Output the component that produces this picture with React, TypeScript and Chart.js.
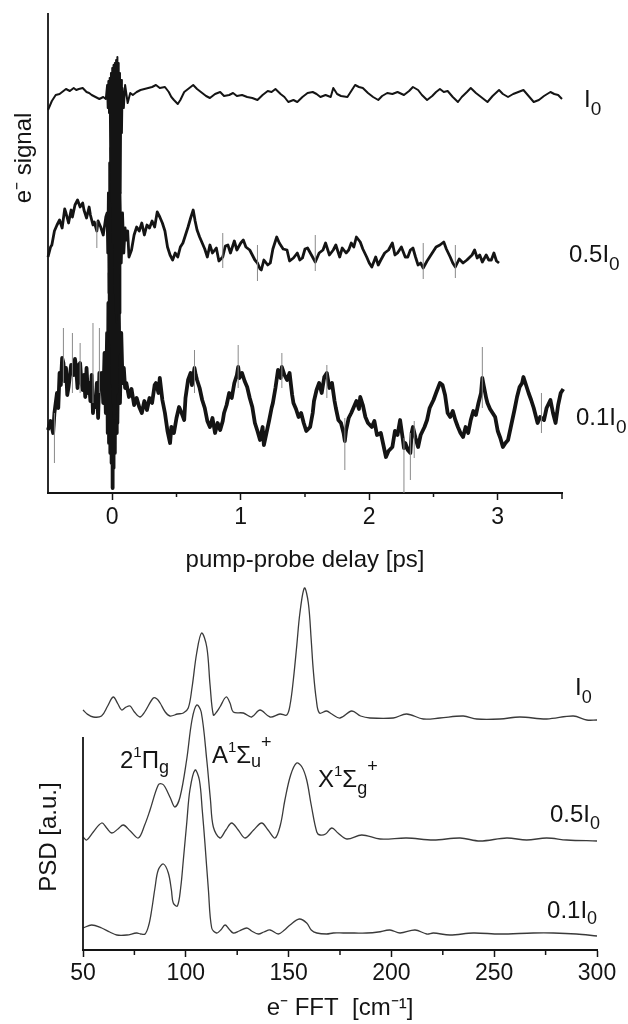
import React, { useEffect, useRef } from 'react';
import { Chart, registerables } from 'chart.js';

Chart.register(...registerables);

const FONT = "'Liberation Sans', Arial, Helvetica, sans-serif";
const INK = '#141414';

// ---------- Top panel: e- signal vs pump-probe delay [ps] (offset traces, arbitrary units) ----------
const delayTicks = [0, 1, 2, 3];
const delayMinorTicks = [0.5, 1.5, 2.5, 3.5];

const traceI0: [number, number][] = [
  [-0.5, 383], [-0.47, 392], [-0.44, 398], [-0.41, 399], [-0.39, 401], [-0.36, 404], [-0.33, 402], [-0.3, 405],
  [-0.28, 403], [-0.26, 404], [-0.23, 405], [-0.2, 401], [-0.18, 400], [-0.16, 398], [-0.13, 396], [-0.1, 394],
  [-0.07, 396], [-0.05, 394],
  [-0.04, 408], [-0.035, 385], [-0.03, 412], [-0.025, 380], [-0.02, 415], [-0.015, 330], [-0.01, 420], [-0.005, 290],
  [0, 425], [0.005, 250], [0.01, 428], [0.015, 200], [0.02, 430], [0.025, 180], [0.03, 433], [0.035, 170],
  [0.04, 436], [0.045, 180], [0.05, 430], [0.055, 220], [0.06, 420], [0.065, 300], [0.07, 413], [0.075, 360],
  [0.08, 405], [0.09, 385], [0.1, 408], [0.12, 390], [0.14, 400],
  [0.16, 398], [0.19, 401], [0.22, 403], [0.25, 404], [0.28, 405], [0.31, 406], [0.34, 408], [0.37, 405],
  [0.41, 406], [0.44, 401], [0.46, 396], [0.48, 393], [0.51, 389], [0.53, 393], [0.56, 401], [0.59, 404],
  [0.63, 408], [0.66, 404], [0.7, 400], [0.73, 397], [0.76, 395], [0.8, 399], [0.84, 401], [0.87, 397],
  [0.91, 398], [0.94, 400], [0.97, 397], [1.01, 398], [1.05, 396], [1.09, 395], [1.13, 393], [1.17, 398],
  [1.21, 402], [1.24, 401], [1.27, 404], [1.31, 399], [1.34, 396], [1.37, 391], [1.41, 393], [1.44, 391],
  [1.48, 396], [1.52, 400], [1.56, 401], [1.59, 399], [1.62, 396], [1.66, 398], [1.7, 396], [1.72, 405],
  [1.75, 399], [1.78, 397], [1.83, 396], [1.86, 402], [1.89, 408], [1.92, 406], [1.95, 405], [1.99, 400],
  [2.03, 396], [2.07, 393], [2.1, 397], [2.14, 400], [2.18, 399], [2.22, 401], [2.27, 398], [2.31, 402],
  [2.34, 406], [2.38, 403], [2.41, 398], [2.45, 393], [2.49, 397], [2.52, 401], [2.55, 404], [2.58, 401],
  [2.61, 402], [2.65, 396], [2.69, 391], [2.72, 396], [2.76, 401], [2.79, 405], [2.83, 400], [2.87, 396],
  [2.92, 391], [2.96, 397], [3.01, 403], [3.04, 399], [3.08, 396], [3.12, 399], [3.16, 401], [3.2, 403],
  [3.24, 397], [3.28, 391], [3.32, 393], [3.36, 397], [3.41, 401], [3.44, 399], [3.47, 398], [3.5, 394],
  [3.52, 395], [3.55, 388],
];

const trace05I0: [number, number][] = [
  [-0.5, 236], [-0.48, 246], [-0.47, 248], [-0.45, 262], [-0.43, 268], [-0.41, 273], [-0.39, 265], [-0.37, 284],
  [-0.36, 280], [-0.34, 270], [-0.32, 283], [-0.31, 276], [-0.29, 288], [-0.27, 293], [-0.25, 286], [-0.23, 290],
  [-0.22, 283], [-0.2, 275], [-0.18, 286], [-0.17, 278], [-0.15, 268], [-0.14, 271], [-0.12, 262], [-0.11, 272],
  [-0.09, 266], [-0.07, 258], [-0.05, 276],
  [-0.04, 280], [-0.035, 240], [-0.03, 300], [-0.025, 200], [-0.02, 330], [-0.015, 150], [-0.01, 345], [-0.005, 110],
  [0, 350], [0.005, 90], [0.01, 353], [0.015, 75], [0.02, 350], [0.025, 80], [0.03, 345], [0.035, 100],
  [0.04, 340], [0.045, 140], [0.05, 320], [0.055, 180], [0.06, 300], [0.07, 230], [0.08, 280], [0.09, 240],
  [0.1, 265],
  [0.11, 253], [0.12, 262], [0.13, 236], [0.15, 243], [0.17, 258], [0.19, 266], [0.21, 262], [0.23, 270],
  [0.25, 258], [0.27, 268], [0.29, 265], [0.31, 272], [0.33, 266], [0.35, 281], [0.37, 276], [0.39, 270],
  [0.41, 262], [0.43, 246], [0.45, 238], [0.47, 233], [0.49, 240], [0.51, 236], [0.53, 246], [0.55, 250],
  [0.57, 258], [0.59, 266], [0.61, 275], [0.63, 283], [0.645, 272], [0.66, 263], [0.68, 256], [0.7, 250],
  [0.72, 244], [0.74, 236], [0.76, 248], [0.78, 240], [0.81, 245], [0.83, 232], [0.86, 236], [0.88, 247],
  [0.9, 248], [0.92, 240], [0.95, 252], [0.97, 243], [1.0, 250], [1.02, 253], [1.04, 246], [1.07, 243],
  [1.09, 238], [1.11, 233], [1.13, 230], [1.15, 224], [1.16, 223], [1.18, 233], [1.21, 228], [1.23, 230],
  [1.25, 244], [1.28, 256], [1.3, 250], [1.33, 244], [1.36, 243], [1.38, 232], [1.41, 235], [1.44, 240],
  [1.46, 233], [1.48, 235], [1.5, 244], [1.52, 245], [1.55, 238], [1.58, 231], [1.61, 240], [1.64, 243],
  [1.66, 250], [1.69, 238], [1.72, 243], [1.74, 248], [1.77, 236], [1.79, 245], [1.82, 240], [1.84, 243],
  [1.86, 250], [1.88, 246], [1.9, 256], [1.93, 251], [1.95, 244], [1.98, 236], [2.0, 230], [2.02, 226],
  [2.05, 236], [2.07, 228], [2.09, 233], [2.12, 240], [2.15, 243], [2.18, 250], [2.2, 238], [2.22, 240],
  [2.25, 246], [2.28, 236], [2.3, 236], [2.32, 243], [2.34, 245], [2.36, 236], [2.38, 228], [2.4, 230],
  [2.42, 225], [2.45, 232], [2.47, 236], [2.49, 240], [2.52, 246], [2.55, 248], [2.58, 251], [2.6, 244],
  [2.63, 236], [2.65, 230], [2.67, 226], [2.7, 234], [2.73, 230], [2.76, 233], [2.8, 238], [2.82, 243],
  [2.84, 235], [2.86, 238], [2.88, 231], [2.91, 238], [2.93, 233], [2.95, 233], [2.97, 240], [2.99, 232],
  [3.01, 230],
];

const trace01I0: [number, number][] = [
  [-0.5, 63], [-0.48, 72], [-0.46, 60], [-0.45, 80], [-0.43, 100], [-0.42, 85], [-0.41, 120], [-0.4, 108],
  [-0.39, 135], [-0.38, 130], [-0.37, 112], [-0.36, 125], [-0.35, 98], [-0.34, 106], [-0.32, 128], [-0.31, 125],
  [-0.3, 118], [-0.29, 134], [-0.28, 123], [-0.27, 105], [-0.26, 128], [-0.25, 130], [-0.24, 110], [-0.23, 103],
  [-0.22, 118], [-0.21, 96], [-0.2, 125], [-0.19, 100], [-0.18, 110], [-0.17, 92], [-0.16, 118], [-0.15, 80],
  [-0.14, 95], [-0.13, 86], [-0.12, 110], [-0.11, 75], [-0.1, 120], [-0.09, 106],
  [-0.08, 120], [-0.07, 90], [-0.06, 140], [-0.05, 80], [-0.04, 160], [-0.035, 60], [-0.03, 190], [-0.025, 50],
  [-0.02, 220], [-0.015, 40], [-0.01, 240], [-0.005, 30], [0, 243], [0.003, 5], [0.006, 240], [0.01, 25],
  [0.015, 235], [0.02, 40], [0.025, 225], [0.03, 60], [0.035, 210], [0.04, 70], [0.05, 190], [0.06, 90],
  [0.07, 160], [0.08, 110],
  [0.08, 116], [0.09, 125], [0.1, 105], [0.11, 110], [0.13, 96], [0.15, 104], [0.17, 88], [0.19, 95],
  [0.21, 86], [0.23, 80], [0.25, 92], [0.27, 83], [0.29, 95], [0.31, 90], [0.33, 108], [0.34, 110],
  [0.36, 100], [0.37, 115], [0.39, 93], [0.41, 80], [0.43, 62], [0.45, 50], [0.46, 66], [0.48, 60],
  [0.5, 75], [0.52, 86], [0.54, 80], [0.56, 73], [0.57, 95], [0.59, 113], [0.61, 120], [0.62, 108],
  [0.64, 125], [0.65, 118], [0.66, 113], [0.68, 105], [0.7, 93], [0.72, 85], [0.74, 72], [0.76, 66],
  [0.78, 75], [0.8, 60], [0.82, 70], [0.84, 63], [0.86, 72], [0.87, 80], [0.89, 88], [0.91, 100],
  [0.93, 95], [0.95, 110], [0.97, 118], [0.98, 126], [0.99, 115], [1.01, 120], [1.03, 112], [1.05, 106],
  [1.07, 95], [1.09, 86], [1.11, 70], [1.13, 62], [1.15, 53], [1.17, 66], [1.18, 48], [1.2, 60],
  [1.22, 72], [1.24, 85], [1.25, 90], [1.27, 105], [1.29, 123], [1.31, 115], [1.32, 126], [1.34, 118],
  [1.36, 113], [1.38, 120], [1.4, 98], [1.41, 90], [1.43, 84], [1.45, 76], [1.47, 80], [1.49, 70],
  [1.51, 62], [1.54, 66], [1.56, 80], [1.57, 92], [1.59, 103], [1.61, 110], [1.63, 100], [1.65, 116],
  [1.67, 120], [1.69, 105], [1.71, 110], [1.73, 92], [1.74, 85], [1.76, 73], [1.78, 70], [1.8, 60],
  [1.81, 52], [1.82, 63], [1.84, 75], [1.86, 80], [1.88, 86], [1.9, 92], [1.92, 84], [1.93, 96],
  [1.95, 88], [1.97, 76], [1.99, 70], [2.02, 66], [2.04, 72], [2.06, 58], [2.09, 60], [2.11, 48],
  [2.13, 36], [2.15, 42], [2.18, 46], [2.2, 62], [2.22, 58], [2.24, 73], [2.26, 55], [2.27, 45],
  [2.28, 50], [2.3, 43], [2.32, 40], [2.33, 60], [2.34, 66], [2.36, 55], [2.38, 46], [2.4, 58],
  [2.43, 66], [2.45, 73], [2.47, 85], [2.5, 93], [2.52, 100], [2.55, 110], [2.57, 108], [2.59, 98],
  [2.61, 80], [2.63, 76], [2.65, 82], [2.67, 73], [2.69, 66], [2.71, 60], [2.73, 56], [2.75, 66],
  [2.77, 60], [2.79, 73], [2.81, 82], [2.83, 78], [2.85, 90], [2.87, 100], [2.88, 115], [2.89, 108],
  [2.91, 95], [2.92, 90], [2.94, 84], [2.96, 80], [2.98, 76], [3.0, 62], [3.02, 55], [3.04, 46],
  [3.06, 50], [3.08, 53], [3.1, 65], [3.13, 83], [3.15, 96], [3.17, 106], [3.19, 110], [3.2, 116],
  [3.22, 108], [3.24, 100], [3.26, 93], [3.28, 85], [3.31, 70], [3.33, 76], [3.36, 73], [3.38, 85],
  [3.41, 93], [3.43, 80], [3.45, 70], [3.47, 88], [3.49, 100], [3.51, 104], [3.52, 110],
];

// thin grey noise spikes: [delay, low, high]
const spikes01I0: [number, number, number][] = [
  [-0.45, 30, 80], [-0.38, 110, 165], [-0.31, 100, 160], [-0.25, 100, 150], [-0.15, 90, 170], [-0.1, 100, 165],
  [0.64, 100, 143], [0.98, 105, 148], [1.32, 105, 140], [1.67, 95, 128], [1.81, 23, 75], [2.27, 0, 55],
  [2.32, 13, 60], [2.35, 35, 72], [2.88, 85, 146], [3.34, 60, 100],
];
const spikes05I0: [number, number, number][] = [
  [-0.12, 245, 272], [0.86, 225, 260], [1.13, 212, 248], [1.58, 222, 258], [2.42, 214, 250], [2.67, 215, 248],
];

// ---------- Bottom panel: PSD vs e- FFT [cm-1] (offset traces, arbitrary units) ----------
const fftTicks = [50, 100, 150, 200, 250, 300];
const fftMinorTicks = [75, 125, 175, 225, 275];

const psdI0: [number, number][] = [
  [50, 240], [52, 236], [55, 233], [59, 234], [62, 244], [64.7, 253], [67, 246], [68.8, 240], [71, 243],
  [72.9, 244], [75, 238], [77.7, 233], [80, 238], [84.2, 252], [86, 251], [87.5, 247], [90, 238], [92.3, 234],
  [96, 236], [98.8, 237], [101.2, 242], [103, 262], [105.3, 297], [107.7, 317], [110.2, 303], [111.8, 265],
  [113.4, 235], [115, 238], [116.6, 243], [119.6, 253], [121.5, 247], [123.1, 238], [128, 237], [132, 233],
  [136.1, 240], [141, 233], [145.8, 236], [149.1, 235], [150.7, 245], [152.3, 270], [154, 305], [155.5, 337],
  [157.7, 362], [159.6, 347], [161, 310], [162, 280], [163.5, 250], [165, 237], [168.5, 239], [171, 236],
  [175, 232], [180.7, 239], [185, 234], [189.6, 232], [200.9, 232], [207.4, 236], [215.5, 231], [223.6, 232],
  [235, 234], [241.5, 231], [252.8, 231], [262.5, 233], [275.5, 231], [288.5, 234], [295, 230], [300, 230],
];

const psd05I0: [number, number][] = [
  [50, 113], [51.8, 110], [55, 118], [59.1, 127], [61.5, 122], [64, 117], [67, 121], [69.6, 125], [73, 119],
  [76.9, 112], [80, 125], [82.6, 140], [86.6, 165], [88.5, 166], [89.9, 163], [92.5, 152], [94.7, 143],
  [97.2, 153], [100.4, 190], [103, 230], [105.3, 245], [107.5, 238], [110.2, 190], [112, 150], [113.4, 123],
  [116.6, 112], [119.5, 120], [122.3, 127], [125.5, 120], [128.8, 112], [133, 120], [136.9, 127], [140, 120],
  [143.4, 112], [146, 125], [148.2, 150], [151, 175], [153.9, 187], [156.5, 183], [158.8, 170], [161, 145],
  [163.7, 118], [165.3, 115], [168, 116], [171, 122], [174, 117], [178.3, 111], [185.6, 115], [194.5, 111],
  [207.4, 112], [220.4, 110], [233.4, 112], [243.1, 109], [256.1, 112], [265.8, 110], [275.5, 112],
  [285.3, 110], [300, 109],
];

const psd01I0: [number, number][] = [
  [50, 22], [54.2, 25], [59.1, 22], [63, 18], [66.4, 15], [71.3, 15], [76.1, 17], [78, 16], [80.2, 16],
  [82, 25], [83.4, 40], [85, 62], [86.6, 80], [89.1, 86], [91.5, 77], [93, 60], [93.9, 47], [95.9, 44],
  [97.5, 62], [98.8, 90], [100.5, 128], [102, 160], [104.5, 180], [106.6, 170], [108, 140], [109.3, 107],
  [111, 60], [112.6, 22], [115, 17], [117, 20], [119.1, 25], [121, 21], [123.1, 17], [126, 19], [129.6, 22],
  [132, 19], [135.3, 16], [138, 18], [141, 20], [145, 16], [148, 20], [150.7, 25], [155.2, 31], [158.8, 27],
  [161, 20], [163.7, 17], [168.5, 16], [171.7, 17], [176.6, 17], [182, 17], [188, 17], [193.6, 18],
  [199.3, 20], [204.2, 17], [211.5, 20], [217.2, 16], [220.4, 17], [228.5, 15], [239.8, 17], [252.8, 16],
  [269, 17], [278.8, 17], [290, 16], [300, 14],
];

// ---------- text helpers ----------
type Part = { t: string; size: number; dy: number };
type Label = { x: number; y: number; parts: Part[] };

const topLabels: Label[] = [
  { x: 3.672, y: 386, parts: [{ t: 'I', size: 24, dy: 0 }, { t: '0', size: 19, dy: 8 }] },
  { x: 3.555, y: 231, parts: [{ t: '0.5I', size: 24, dy: 0 }, { t: '0', size: 19, dy: 8 }] },
  { x: 3.609, y: 68, parts: [{ t: '0.1I', size: 24, dy: 0 }, { t: '0', size: 19, dy: 8 }] },
];

const bottomLabels: Label[] = [
  { x: 289.3, y: 255, parts: [{ t: 'I', size: 24, dy: 0 }, { t: '0', size: 18, dy: 8 }] },
  { x: 277.1, y: 128, parts: [{ t: '0.5I', size: 24, dy: 0 }, { t: '0', size: 18, dy: 7 }] },
  { x: 275.7, y: 32, parts: [{ t: '0.1I', size: 24, dy: 0 }, { t: '0', size: 18, dy: 6 }] },
  { x: 68.0, y: 182, parts: [{ t: '2', size: 24, dy: 0 }, { t: '1', size: 15, dy: -11 }, { t: 'Π', size: 24, dy: 0 }, { t: 'g', size: 18, dy: 5 }] },
  { x: 112.7, y: 187, parts: [{ t: 'A', size: 24, dy: 0 }, { t: '1', size: 15, dy: -11 }, { t: 'Σ', size: 24, dy: 0 }, { t: 'u', size: 18, dy: 4 }, { t: '+', size: 18, dy: -15 }] },
  { x: 164.3, y: 163, parts: [{ t: 'X', size: 24, dy: 0 }, { t: '1', size: 15, dy: -11 }, { t: 'Σ', size: 24, dy: 0 }, { t: 'g', size: 18, dy: 7 }, { t: '+', size: 18, dy: -15 }] },
];

function drawRich(ctx: CanvasRenderingContext2D, x: number, y: number, parts: Part[]) {
  let cx = x;
  for (const p of parts) {
    ctx.font = `${p.size}px ${FONT}`;
    ctx.fillText(p.t, cx, y + p.dy);
    cx += ctx.measureText(p.t).width;
  }
}

function toPts(arr: [number, number][]) {
  return arr.map(([x, y]) => ({ x, y }));
}

function spikePts(arr: [number, number, number][]) {
  const out: { x: number; y: number | null }[] = [];
  for (const [t, lo, hi] of arr) {
    out.push({ x: t, y: lo }, { x: t, y: hi }, { x: t, y: null });
  }
  return out;
}

function makeDecor(opts: {
  id: string;
  labels: Label[];
  minor: number[];
  minorLen: (v: number) => number;
  axisFromValue: number | null;
  yTitle: string;
  yTitlePos: { x: number; y: number };
}) {
  return {
    id: opts.id,
    afterDraw(chart: any) {
      const ctx: CanvasRenderingContext2D = chart.ctx;
      const area = chart.chartArea;
      const xs = chart.scales.x;
      const ys = chart.scales.y;
      ctx.save();
      ctx.strokeStyle = INK;
      ctx.fillStyle = INK;
      ctx.lineWidth = 1.8;
      ctx.beginPath();
      const yTop = opts.axisFromValue === null ? area.top : ys.getPixelForValue(opts.axisFromValue);
      ctx.moveTo(area.left, yTop);
      ctx.lineTo(area.left, area.bottom + 1);
      ctx.stroke();
      ctx.lineWidth = 1.5;
      for (const v of opts.minor) {
        const px = xs.getPixelForValue(v);
        ctx.beginPath();
        ctx.moveTo(px, area.bottom);
        ctx.lineTo(px, area.bottom + opts.minorLen(v));
        ctx.stroke();
      }
      ctx.translate(opts.yTitlePos.x, opts.yTitlePos.y);
      ctx.rotate(-Math.PI / 2);
      ctx.font = `24px ${FONT}`;
      ctx.textAlign = 'center';
      ctx.textBaseline = 'alphabetic';
      ctx.fillText(opts.yTitle, 0, 0);
      ctx.setTransform(1, 0, 0, 1, 0, 0);
      ctx.textAlign = 'left';
      for (const l of opts.labels) {
        drawRich(ctx, xs.getPixelForValue(l.x), ys.getPixelForValue(l.y), l.parts);
      }
      ctx.restore();
    },
  };
}

export default function App() {
  const topRef = useRef<HTMLCanvasElement>(null);
  const botRef = useRef<HTMLCanvasElement>(null);

  useEffect(() => {
    Chart.defaults.font.family = FONT;
    Chart.defaults.color = INK;

    const lineDs = (label: string, data: any[], width: number, color: string, tension: number) => ({
      label,
      data,
      borderColor: color,
      borderWidth: width,
      pointRadius: 0,
      tension,
      fill: false,
      spanGaps: false,
      clip: false as any,
      borderJoinStyle: 'round' as const,
    });

    const top = new Chart(topRef.current!, {
      type: 'line',
      data: {
        datasets: [
          lineDs('0.1I0 noise', spikePts(spikes01I0), 1, '#8a8a8a', 0),
          lineDs('0.5I0 noise', spikePts(spikes05I0), 1, '#8a8a8a', 0),
          lineDs('I0', toPts(traceI0), 2.0, INK, 0),
          lineDs('0.5I0', toPts(trace05I0), 2.8, INK, 0),
          lineDs('0.1I0', toPts(trace01I0), 3.8, INK, 0),
        ],
      },
      options: {
        responsive: false,
        animation: false,
        devicePixelRatio: 1,
        events: [],
        layout: { padding: { left: 48, right: 66, top: 13, bottom: 5.6 } },
        plugins: { legend: { display: false }, tooltip: { enabled: false } },
        scales: {
          x: {
            type: 'linear',
            min: -0.5,
            max: 3.5,
            border: { display: true, color: INK, width: 2 },
            grid: {
              drawOnChartArea: false,
              drawTicks: true,
              tickLength: 7,
              tickWidth: 1.5,
              tickColor: (c: any) => (delayTicks.includes(c.tick?.value) ? INK : 'rgba(0,0,0,0)'),
            },
            ticks: {
              stepSize: 0.5,
              autoSkip: false,
              maxRotation: 0,
              padding: 4,
              font: { size: 23 },
              color: INK,
              callback: (v: any) => (delayTicks.includes(Number(v)) ? String(v) : ''),
            },
            title: {
              display: true,
              text: 'pump-probe delay [ps]',
              font: { size: 24 },
              color: INK,
              padding: { top: 10, bottom: 0 },
            },
          },
          y: { type: 'linear', display: false, min: 0, max: 480 },
        },
      },
      plugins: [
        makeDecor({
          id: 'topDecor',
          labels: topLabels,
          minor: delayMinorTicks,
          minorLen: (v) => (v === 3.5 ? 6 : 4),
          axisFromValue: null,
          yTitle: 'e\u207B signal',
          yTitlePos: { x: 31, y: 158 },
        }),
      ],
    } as any);

    const bottom = new Chart(botRef.current!, {
      type: 'line',
      data: {
        datasets: [
          lineDs('I0', toPts(psdI0), 1.3, '#3a3a3a', 0.35),
          lineDs('0.5I0', toPts(psd05I0), 1.3, '#3a3a3a', 0.35),
          lineDs('0.1I0', toPts(psd01I0), 1.3, '#3a3a3a', 0.35),
        ],
      },
      options: {
        responsive: false,
        animation: false,
        devicePixelRatio: 1,
        events: [],
        layout: { padding: { left: 83, right: 31, top: 5, bottom: 1.6 } },
        plugins: { legend: { display: false }, tooltip: { enabled: false } },
        scales: {
          x: {
            type: 'linear',
            min: 50,
            max: 300,
            border: { display: true, color: INK, width: 2 },
            grid: { drawOnChartArea: false, drawTicks: true, tickLength: 7, tickWidth: 1.5, tickColor: INK },
            ticks: {
              stepSize: 50,
              autoSkip: false,
              maxRotation: 0,
              padding: 3,
              font: { size: 23 },
              color: INK,
              callback: (v: any) => (fftTicks.includes(Number(v)) ? String(v) : ''),
            },
            title: {
              display: true,
              text: 'e\u207B FFT  [cm\u207B\u00B9]',
              font: { size: 24 },
              color: INK,
              padding: { top: 3, bottom: 0 },
            },
          },
          y: { type: 'linear', display: false, min: 0, max: 370 },
        },
      },
      plugins: [
        makeDecor({
          id: 'bottomDecor',
          labels: bottomLabels,
          minor: fftMinorTicks,
          minorLen: () => 5,
          axisFromValue: 213,
          yTitle: 'PSD [a.u.]',
          yTitlePos: { x: 56, y: 262 },
        }),
      ],
    } as any);

    return () => {
      top.destroy();
      bottom.destroy();
    };
  }, []);

  return (
    <div style={{ position: 'absolute', left: 0, top: 0, width: 628, height: 1024, background: '#fff', overflow: 'hidden' }}>
      <canvas ref={topRef} width={628} height={580} style={{ position: 'absolute', left: 0, top: 0, display: 'block' }} />
      <canvas ref={botRef} width={628} height={449} style={{ position: 'absolute', left: 0, top: 575, display: 'block' }} />
    </div>
  );
}
